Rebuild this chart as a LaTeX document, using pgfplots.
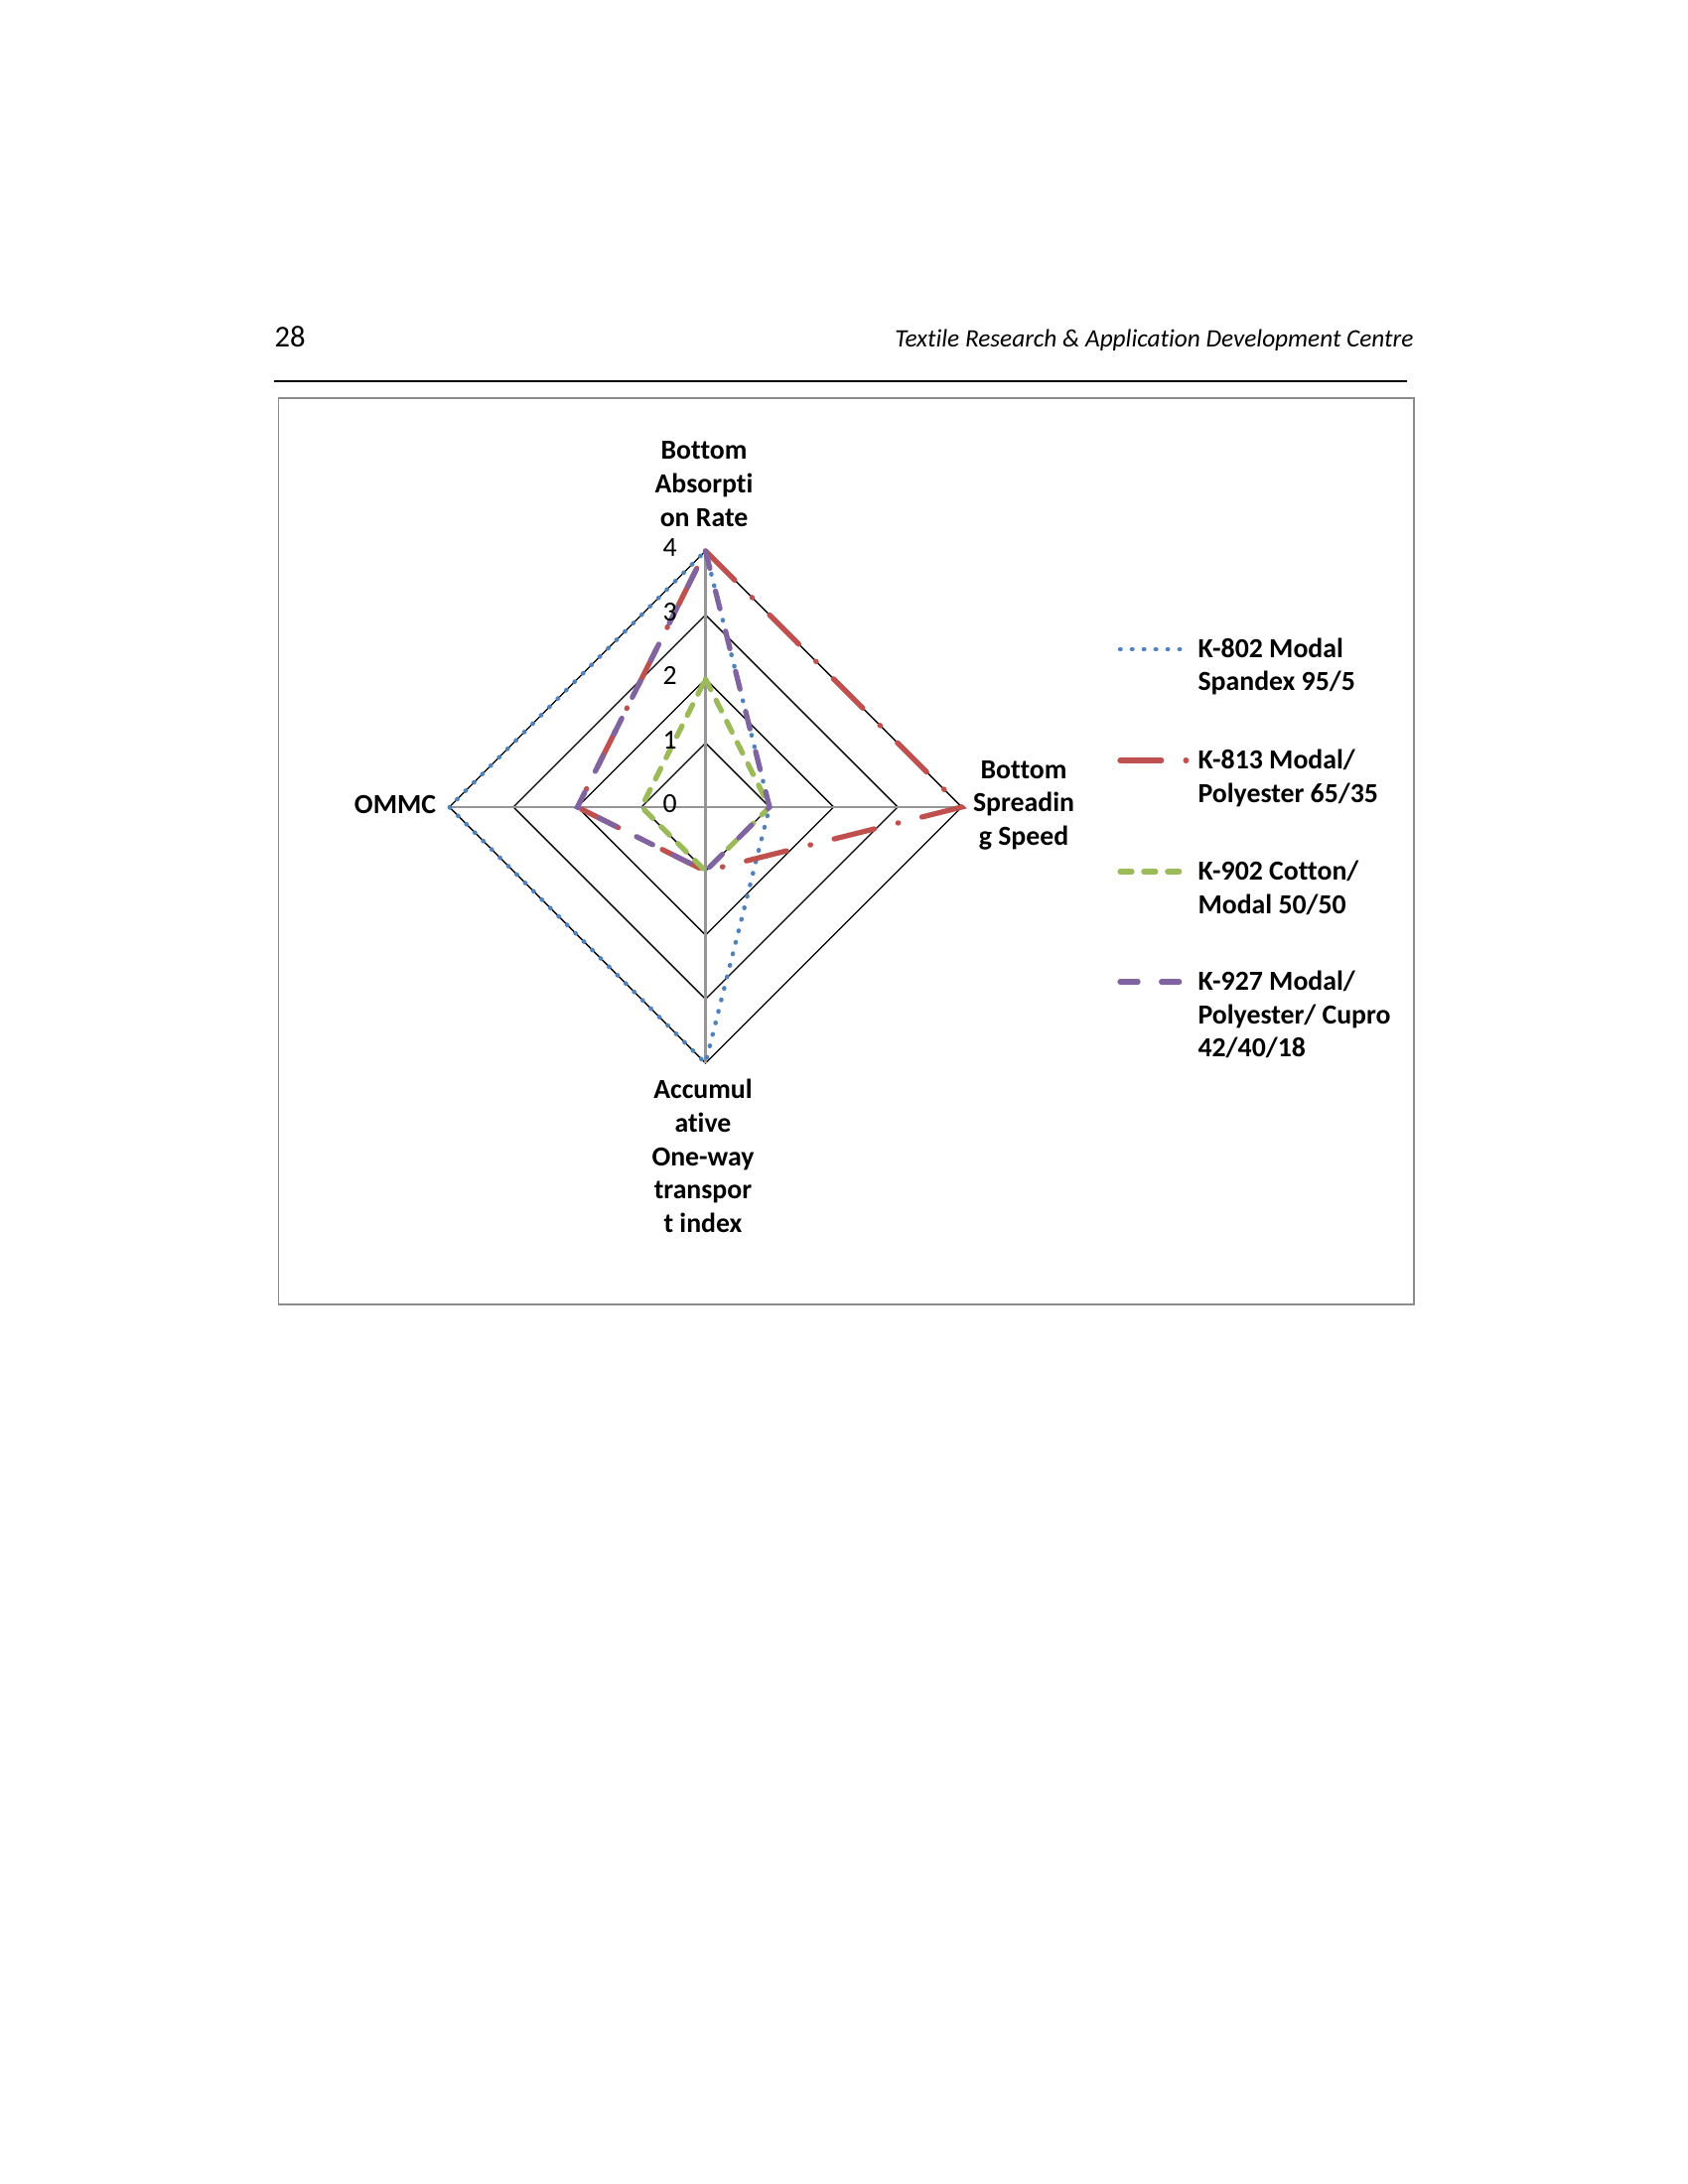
\documentclass[border=0pt]{standalone}
\usepackage{fontspec}
\setmainfont{Carlito}[Ligatures=NoCommon]
\usepackage{pgfplots}
\pgfplotsset{compat=1.18}
\definecolor{cblue}{HTML}{4F81BD}
\definecolor{cred}{HTML}{C0504D}
\definecolor{cgreen}{HTML}{9BBB59}
\definecolor{cpurple}{HTML}{8064A2}
\definecolor{spoke}{HTML}{969696}
\definecolor{frame}{HTML}{8C8C8C}
\tikzset{
 s802/.style={cblue, line width=1.6pt, line cap=round, dash pattern=on 0.2pt off 4.1pt},
 s813/.style={cred, line width=1.9pt, line cap=round, dash pattern=on 15pt off 8.8pt on 0.2pt off 8.8pt},
 s902/.style={cgreen, line width=1.9pt, line cap=round, dash pattern=on 4.3pt off 4.3pt},
 s927/.style={cpurple, line width=1.9pt, line cap=round, dash pattern=on 6.5pt off 8.5pt},
}
\newcommand{\lbl}[3]{\node[anchor=base, inner sep=0pt, font=\fontsize{10}{12.2}\selectfont\bfseries] at (#1,#2+9) {#3};}
\newcommand{\leg}[3]{\node[anchor=base west, inner sep=0pt, font=\fontsize{10}{12.2}\selectfont\bfseries] at (#1,#2+9) {#3};}
\newcommand{\tck}[3]{\node[anchor=base, inner sep=0pt, font=\fontsize{10}{12.2}\selectfont] at (#1,#2+9) {#3};}
\begin{document}
\begin{tikzpicture}
\path (0,0) rectangle (612pt,792pt);
\begin{axis}[at={(255.78pt,499.32pt)}, anchor=center, scale only axis,
  width=208.98pt, height=208.98pt, xmin=-4.5, xmax=4.5, ymin=-4.5, ymax=4.5,
  hide axis, clip=false]
% grid diamonds
\addplot[black, line width=0.5pt, line join=miter] coordinates {(0,1) (1,0) (0,-1) (-1,0)} -- cycle;
\addplot[black, line width=0.5pt, line join=miter] coordinates {(0,2) (2,0) (0,-2) (-2,0)} -- cycle;
\addplot[black, line width=0.5pt, line join=miter] coordinates {(0,3) (3,0) (0,-3) (-3,0)} -- cycle;
\addplot[black, line width=0.5pt, line join=miter] coordinates {(0,4) (4,0) (0,-4) (-4,0)} -- cycle;
% spokes
\addplot[spoke, line width=0.8pt] coordinates {(0,0) (0,4)};
\addplot[spoke, line width=0.8pt] coordinates {(0,0) (4,0)};
\addplot[spoke, line width=0.8pt] coordinates {(0,0) (0,-4)};
\addplot[spoke, line width=0.8pt] coordinates {(0,0) (-4,0)};
% series: top = Bottom Absorption Rate, right = Bottom Spreading Speed,
% bottom = Accumulative One-way transport index, left = OMMC
\addplot[s802] coordinates {(0,4) (1,0) (0,-4) (-4,0) (0,4)};
\addplot[s813] coordinates {(0,4) (4,0) (0,-1) (-2,0) (0,4)};
\addplot[s902] coordinates {(0,2) (1,0) (0,-1) (-1,0) (0,2)};
\addplot[s927] coordinates {(0,4) (1,0) (0,-1) (-2,0) (0,4)};
\end{axis}
\begin{scope}[yshift=792pt, x=0.36pt, y=-0.36pt]
% header
\node[anchor=base west, inner sep=0pt, font=\fontsize{11}{13}\selectfont] at (276,350) {28};
\node[anchor=base east, inner sep=0pt, font=\fontsize{9.1}{11}\selectfont\itshape] at (1424,350) {Textile Research \& Application Development Centre};
\draw[line width=0.9pt] (276,384) -- (1417,384);
% frame
\draw[frame, line width=0.7pt] (280.5,401) rectangle (1424,1314);
% tick labels
\tck{674.6}{810}{0}
\tck{674.6}{745.5}{1}
\tck{674.6}{681}{2}
\tck{674.6}{616.5}{3}
\tck{674.6}{552}{4}
% category labels
\lbl{709}{454}{Bottom}
\lbl{709}{488}{Absorpti}
\lbl{709}{522}{on Rate}
\lbl{1031}{776}{Bottom}
\lbl{1031}{809}{Spreadin}
\lbl{1031}{843}{g Speed}
\lbl{398}{811}{OMMC}
\lbl{708}{1098}{Accumul}
\lbl{708}{1132}{ative}
\lbl{708}{1166}{One-way}
\lbl{708}{1199}{transpor}
\lbl{708}{1233}{t index}
% legend
\draw[s802] (1128,654) -- (1192,654);
\draw[s813] (1128,766) -- (1196,766);
\draw[s902] (1128,878) -- (1192,878);
\draw[s927] (1128,989) -- (1192,989);
\leg{1206}{654}{K-802 Modal}
\leg{1206}{687}{Spandex 95/5}
\leg{1206}{766}{K-813 Modal/}
\leg{1206}{800}{Polyester 65/35}
\leg{1206}{878}{K-902 Cotton/}
\leg{1206}{912}{Modal 50/50}
\leg{1206}{989}{K-927 Modal/}
\leg{1206}{1023}{Polyester/ Cupro}
\leg{1206}{1056}{42/40/18}
\end{scope}
\end{tikzpicture}
\end{document}
